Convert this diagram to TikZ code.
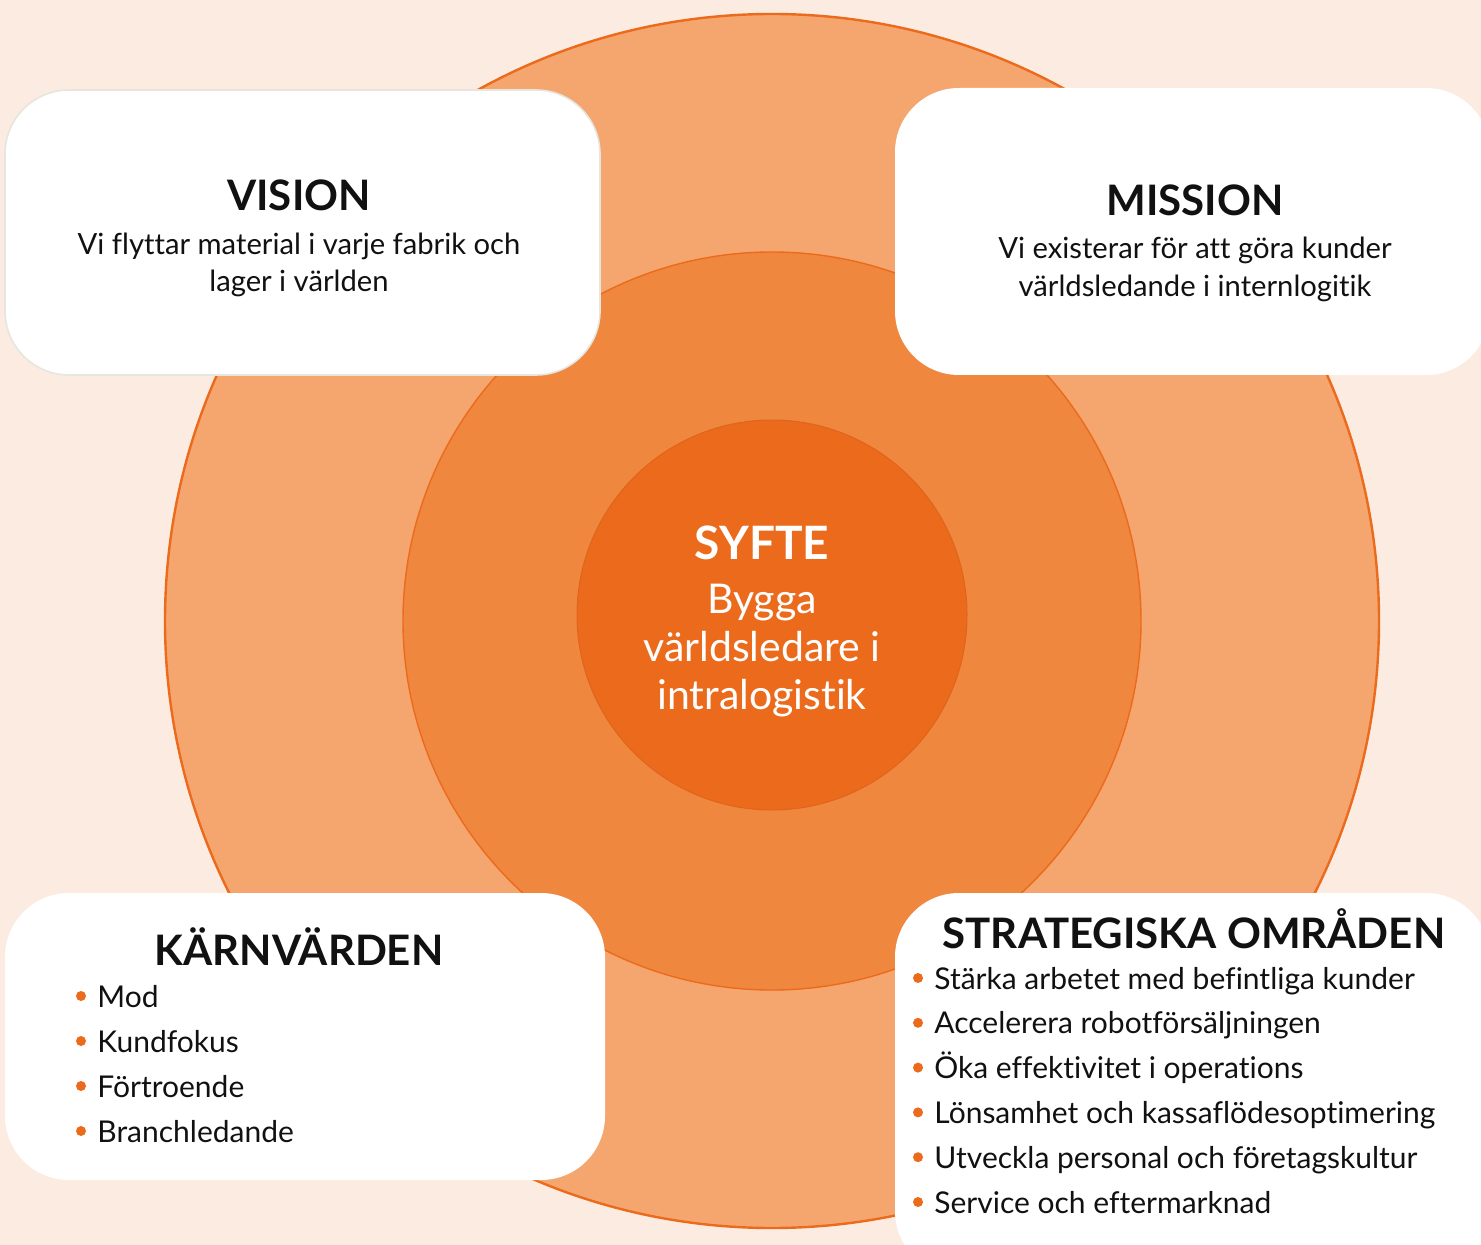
\documentclass[tikz,border=0pt]{standalone}
\usepackage{fontspec}
\setmainfont{Lato}[Ligatures={NoCommon}]
\definecolor{bgc}{HTML}{FCEBE1}
\definecolor{ring1}{HTML}{F5A66E}
\definecolor{ring2}{HTML}{F0873F}
\definecolor{ring3}{HTML}{EB6A1C}
\definecolor{edgeo}{HTML}{EC6A1C}
\definecolor{txt}{HTML}{111111}
\definecolor{boxline}{HTML}{E6E6DF}
\tikzset{
  card/.style={fill=white, rounded corners=32pt},
  ttl/.style={font=\fontsize{21}{25}\selectfont\bfseries, text=txt, anchor=center},
  bodytxt/.style={font=\fontsize{14.6}{18.7}\selectfont, text=txt, align=center, anchor=center},
  itemtxt/.style={font=\fontsize{15}{18}\selectfont, text=txt, anchor=base west, inner sep=0pt},
  dot/.style={circle, fill=edgeo, inner sep=0pt, minimum size=5pt},
}
\begin{document}
\begin{tikzpicture}[x=0.5pt,y=-0.5pt]
\useasboundingbox (0,0) rectangle (1481,1245);
\clip (0,0) rectangle (1481,1245);
\fill[bgc] (0,0) rectangle (1481,1245);
% rings
\node[circle, draw=edgeo, line width=1.2pt, fill=ring1, minimum size=607pt, inner sep=0pt] (outer) at (772,621) {};
\node[circle, draw=edgeo, line width=0.7pt, fill=ring2, minimum size=369pt, inner sep=0pt] (middle) at (772,621) {};
\node[circle, draw=ring3!95!black, line width=0.5pt, fill=ring3, minimum size=195pt, inner sep=0pt] (inner) at (772,615) {};
% cards
\draw[card, draw=boxline, line width=0.8pt] (5,90) rectangle (600,375);
\fill[card] (895,88) rectangle (1490,375);
\fill[card] (5,893) rectangle (605,1180);
\fill[card] (895,893) rectangle (1490,1275);
% vision
\node[ttl] (visiont) at (299,195) {VISION};
\node[bodytxt] (visionb) at (299,265) {Vi flyttar material i varje fabrik och\\lager i världen};
% mission
\node[ttl] (missiont) at (1195,200) {MISSION};
\node[bodytxt] (missionb) at (1195,269.5) {Vi existerar för att göra kunder\\världsledande i internlogitik};
% syfte
\node[ttl, text=white, font=\fontsize{23}{27}\selectfont\bfseries] (syftet) at (762,543) {SYFTE};
\node[bodytxt, text=white, font=\fontsize{20.5}{24}\selectfont] (syfteb) at (762,651) {Bygga\\världsledare i\\intralogistik};
% karnvarden
\node[ttl] (karnt) at (299,947) {KÄRNVÄRDEN};
\foreach \t [count=\i] in {Mod,Kundfokus,Förtroende,Branchledande}{
  \node[dot] (kd\i) at (81,{996+45*(\i-1)}) {};
  \node[itemtxt] (kt\i) at (97,{1007+45*(\i-1)}) {\t};
}
% strategiska
\node[ttl] (stratt) at (1194,929) {STRATEGISKA OMRÅDEN};
\foreach \t [count=\i] in {Stärka arbetet med befintliga kunder,Accelerera robotförsäljningen,Öka effektivitet i operations,Lönsamhet och kassaflödesoptimering,Utveckla personal och företagskultur,Service och eftermarknad}{
  \node[dot] (sd\i) at (918,{978+44.8*(\i-1)}) {};
  \node[itemtxt] (st\i) at (934,{989+44.8*(\i-1)}) {\t};
}
\end{tikzpicture}
\end{document}
